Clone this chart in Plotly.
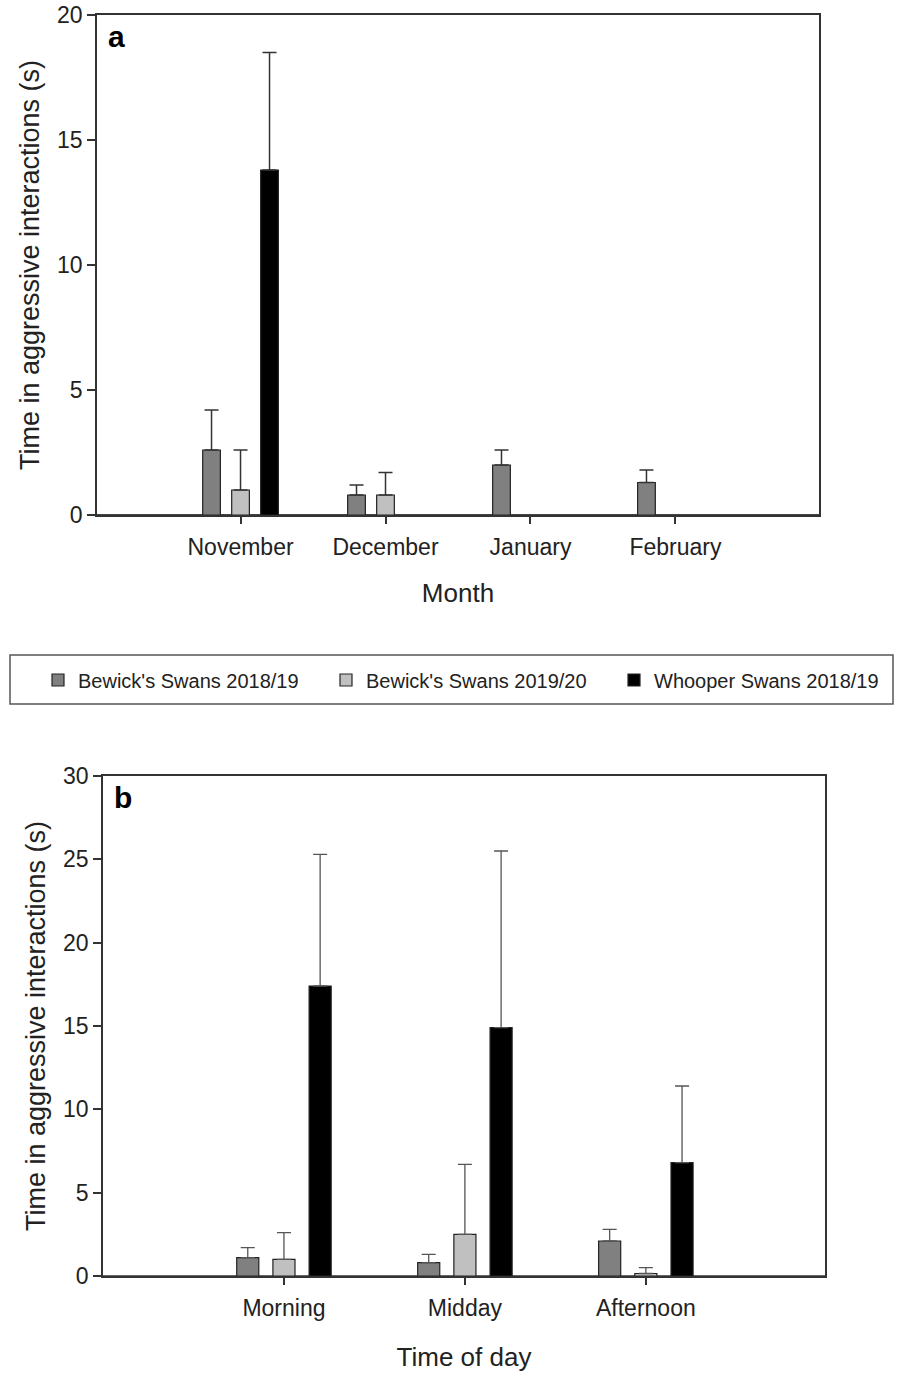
import plotly.graph_objects as go

# ---- data ----
months = ["November", "December", "January", "February"]
bew1819_m = [2.6, 0.8, 2.0, 1.3]
bew1819_m_err = [4.2, 1.2, 2.6, 1.8]          # top of error bar
bew1920_m = [1.0, 0.8, None, None]
bew1920_m_err = [2.6, 1.7, None, None]
whoo1819_m = [13.8, None, None, None]
whoo1819_m_err = [18.5, None, None, None]

times = ["Morning", "Midday", "Afternoon"]
bew1819_t = [1.1, 0.8, 2.1]
bew1819_t_err = [1.7, 1.3, 2.8]
bew1920_t = [1.0, 2.5, 0.15]
bew1920_t_err = [2.6, 6.7, 0.5]
whoo1819_t = [17.4, 14.9, 6.8]
whoo1819_t_err = [25.3, 25.5, 11.4]

series_names = ["Bewick's Swans 2018/19", "Bewick's Swans 2019/20", "Whooper Swans 2018/19"]
colors = ["#808080", "#c0c0c0", "#000000"]

FONT = "Liberation Sans, Arial, sans-serif"


def up(vals, tops):
    return [None if (v is None or t is None) else t - v for v, t in zip(vals, tops)]


fig = go.Figure()

panel_a = [(bew1819_m, bew1819_m_err), (bew1920_m, bew1920_m_err), (whoo1819_m, whoo1819_m_err)]
panel_b = [(bew1819_t, bew1819_t_err), (bew1920_t, bew1920_t_err), (whoo1819_t, whoo1819_t_err)]

for i, (v, t) in enumerate(panel_a):
    fig.add_trace(go.Bar(
        x=months, y=v, name=series_names[i], xaxis="x", yaxis="y",
        marker=dict(color=colors[i], line=dict(color="#222222", width=1.2)),
        error_y=dict(type="data", symmetric=False, array=up(v, t),
                     arrayminus=[0 if a is not None else None for a in v],
                     color="#333333", thickness=1.5, width=7),
        showlegend=True, legendgroup=str(i),
    ))
for i, (v, t) in enumerate(panel_b):
    fig.add_trace(go.Bar(
        x=times, y=v, name=series_names[i], xaxis="x2", yaxis="y2",
        marker=dict(color=colors[i], line=dict(color="#222222", width=1.2)),
        error_y=dict(type="data", symmetric=False, array=up(v, t),
                     arrayminus=[0] * len(v),
                     color="#555555", thickness=1.3, width=7),
        showlegend=False, legendgroup=str(i),
    ))

W, H = 902, 1376
ml, mr, mt, mb = 10, 9, 15, 100
pw = W - ml - mr
ph = H - mt - mb

def px_x(x):
    return (x - ml) / pw

def px_y(y):
    return (H - mb - y) / ph

tickfont = dict(family=FONT, size=23, color="#222222")
xtitlefont = dict(family=FONT, size=26, color="#222222")
ytitlefont = dict(family=FONT, size=27, color="#222222")

common_x = dict(type="category", showline=True, mirror=True, linecolor="#333333", linewidth=1.5,
                ticks="outside", ticklen=7, tickcolor="#333333", tickwidth=1.5,
                showgrid=False, zeroline=False, tickfont=tickfont, automargin=False,
                ticklabelstandoff=4)
common_y = dict(showline=True, mirror=True, linecolor="#333333", linewidth=1.5,
                ticks="outside", ticklen=8, tickcolor="#333333", tickwidth=1.5,
                showgrid=False, zeroline=True, zerolinecolor="#444444", zerolinewidth=2.5,
                tickfont=tickfont, dtick=5, automargin=False, ticklabeloverflow="allow")

fig.update_layout(
    width=W, height=H,
    margin=dict(l=ml, r=mr, t=mt, b=mb),
    paper_bgcolor="white", plot_bgcolor="white",
    barmode="group", bargap=0.4, bargroupgap=0.39,
    font=dict(family=FONT, color="#222222"),
    xaxis=dict(common_x, domain=[px_x(97), px_x(819)], anchor="y", range=[-0.99, 3.99],
               title=dict(text="Month", font=xtitlefont, standoff=24)),
    yaxis=dict(common_y, domain=[px_y(515), px_y(15)], anchor="x", range=[0, 20],
               title=dict(text="Time in aggressive interactions (s)", font=ytitlefont, standoff=10)),
    xaxis2=dict(common_x, domain=[px_x(103), px_x(825)], anchor="y2", range=[-1.0, 2.99],
                title=dict(text="Time of day", font=xtitlefont, standoff=27)),
    yaxis2=dict(common_y, domain=[0, px_y(776)], anchor="x2", range=[0, 30],
                zerolinecolor="#666666", zerolinewidth=3,
                title=dict(text="Time in aggressive interactions (s)", font=ytitlefont, standoff=10)),
    legend=dict(orientation="h", x=px_x(49), xanchor="left", y=px_y(680), yanchor="middle",
                font=dict(family=FONT, size=20, color="#222222"),
                bgcolor="rgba(0,0,0,0)", borderwidth=0, entrywidth=243, itemwidth=30,
                traceorder="normal"),
    annotations=[
        dict(text="<b>a</b>", xref="x domain", yref="y domain", x=0.012, y=0.995,
             xanchor="left", yanchor="top", showarrow=False,
             font=dict(family=FONT, size=30, color="#000000")),
        dict(text="<b>b</b>", xref="x2 domain", yref="y2 domain", x=0.012, y=0.995,
             xanchor="left", yanchor="top", showarrow=False,
             font=dict(family=FONT, size=30, color="#000000")),
    ],
    shapes=[
        dict(type="rect", xref="paper", yref="paper",
             x0=px_x(10), x1=px_x(893), y0=px_y(704), y1=px_y(655),
             line=dict(color="#555555", width=1.5), fillcolor="rgba(0,0,0,0)"),
    ],
)

fig.write_html("out.html", config={"displayModeBar": False},
               post_script="document.body.style.margin='0';document.body.style.padding='0';")
